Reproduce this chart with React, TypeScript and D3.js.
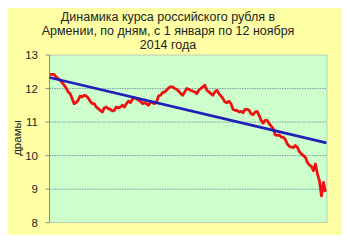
import React from "react";
import * as d3 from "d3";

const titleLines = [
  "Динамика курса российского рубля в",
  "Армении, по дням,  с 1 января по 12 ноября",
  "2014 года",
];
const yLabel = "драмы";
const yTicks = [8, 9, 10, 11, 12, 13];

// Daily rate (AMD per RUB), 1 Jan – 12 Nov 2014, sampled
const rates = [
  12.42, 12.42, 12.42, 12.35, 12.3, 12.25, 12.18, 12.1, 12.02, 11.9,
  11.85, 11.7, 11.55, 11.58, 11.65, 11.78, 11.75, 11.8, 11.78, 11.72,
  11.62, 11.55, 11.55, 11.45, 11.4, 11.35, 11.3, 11.42, 11.45, 11.4,
  11.38, 11.33, 11.35, 11.45, 11.42, 11.45, 11.5, 11.45, 11.55, 11.62,
  11.58, 11.68, 11.72, 11.7, 11.65, 11.62, 11.55, 11.58, 11.55, 11.5,
  11.6, 11.58, 11.55, 11.6, 11.78, 11.8, 11.88, 11.9, 11.95, 12.02,
  12.05, 12.05, 12.0, 11.98, 11.92, 11.85, 11.8, 11.9, 12.0, 11.98,
  11.95, 11.92, 11.9, 11.85, 11.95, 12.0, 12.05, 12.1, 11.95, 11.9,
  11.85, 11.8, 11.9, 11.95, 11.85, 11.78, 11.7, 11.6, 11.58, 11.62,
  11.55, 11.38, 11.35, 11.35, 11.3, 11.32, 11.28, 11.38, 11.38, 11.35,
  11.25, 11.22, 11.3, 11.32, 11.2, 11.05, 10.97, 11.05, 11.05, 10.95,
  10.88, 10.8, 10.62, 10.6, 10.62, 10.55, 10.55, 10.48, 10.35, 10.28,
  10.25, 10.24, 10.3, 10.25, 10.12, 10.05, 10.0, 9.95, 9.8, 9.72,
  9.68, 9.55, 9.75, 9.45, 9.25, 8.8, 9.2, 8.92,
];
// Linear trend line values at start and end
const trend = [12.33, 10.38];

export default function App() {
  const W = 350;
  const H = 243;
  const left = 49.5;
  const right = 327;
  const top = 55;
  const bottom = 222.7;

  const y = d3.scaleLinear().domain([8, 13]).range([bottom, top]);
  const x = d3.scaleLinear().domain([0, rates.length - 1]).range([left + 0.5, right - 1.5]);
  const xt = d3.scaleLinear().domain([0, trend.length - 1]).range([left, right - 0.5]);

  const line = d3
    .line<number>()
    .x((_, i) => x(i))
    .y((d) => y(d));
  const trendLine = d3
    .line<number>()
    .x((_, i) => xt(i))
    .y((d) => y(d));

  return (
    <div style={{ margin: -8, width: W, height: H }}>
      <svg width={W} height={H} style={{ display: "block", fontFamily: "'Liberation Sans', Arial, sans-serif" }}>
        <rect x={0} y={0} width={W} height={H} fill="#ffffff" />
        <rect x={3.5} y={3.5} width={345} height={237} rx={9} fill="#2a2a2a" />
        <rect x={2} y={2} width={344.5} height={236} rx={9} fill="#ffffa6" stroke="#b5b07a" strokeWidth={1} />
        <rect x={left} y={top} width={right - left} height={bottom - top} fill="#ccffcc" stroke="#a8a8a8" strokeWidth={0.6} />
        {yTicks.filter((t) => t > 8 && t < 13).map((t) => (
          <line key={t} x1={left} x2={right} y1={y(t)} y2={y(t)} stroke="#7c9ea6" strokeWidth={1} strokeDasharray="1.5,1" />
        ))}
        <line x1={left} x2={left} y1={top} y2={bottom} stroke="#8a8a8a" strokeWidth={1} />
        {yTicks.map((t) => (
          <g key={t}>
            <line x1={left - 4} x2={left} y1={y(t)} y2={y(t)} stroke="#8a8a8a" strokeWidth={1} />
            <text x={38} y={y(t)} dy="0.36em" textAnchor="end" fontSize={11.5} fill="#222">
              {t}
            </text>
          </g>
        ))}
        <text transform={`translate(17,138) rotate(-90)`} textAnchor="middle" fontSize={11.5} fill="#222" dy="0.35em">
          {yLabel}
        </text>
        {titleLines.map((s, i) => (
          <text key={i} x={168} y={21 + i * 14} textAnchor="middle" fontSize={12.5} fill="#222">
            {s}
          </text>
        ))}
        <path d={line(rates) ?? ""} fill="none" stroke="#ee1111" strokeWidth={2.8} strokeLinejoin="round" />
        <path d={trendLine(trend) ?? ""} fill="none" stroke="#2020b8" strokeWidth={2.7} />
      </svg>
    </div>
  );
}
